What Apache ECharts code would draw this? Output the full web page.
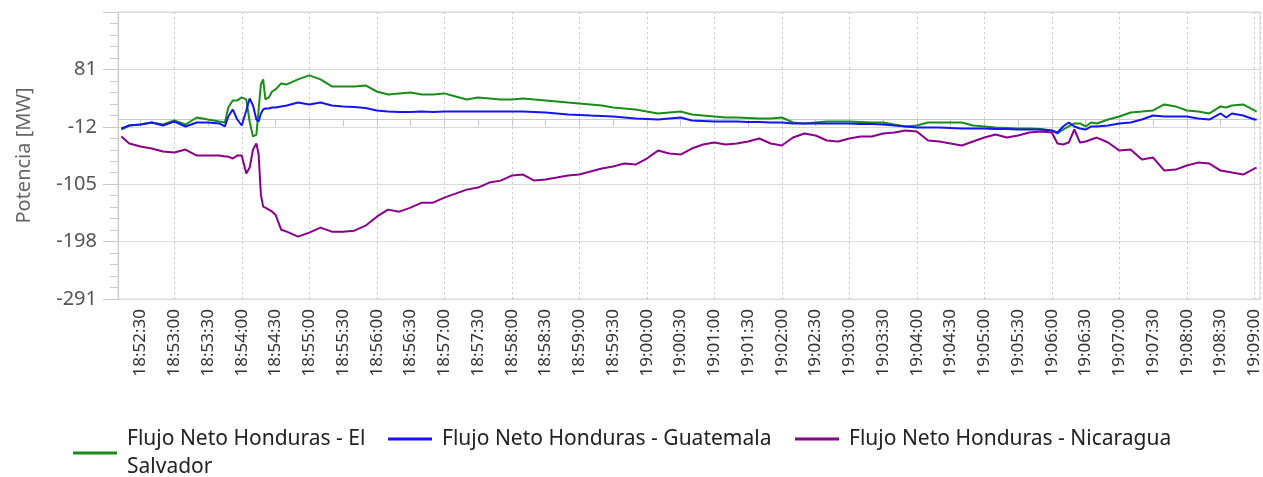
<!DOCTYPE html>
<html>
<head>
<meta charset="utf-8">
<title>Flujo Neto Honduras</title>
<script src="https://cdn.jsdelivr.net/npm/echarts@6/dist/echarts.min.js"></script>
<style>
  html, body { margin: 0; padding: 0; background: #fff; }
  #main { width: 1263px; height: 477px; }
</style>
</head>
<body>
<div id="main"></div>
<script>
// horas de muestreo
var times = [
  '18:52:13', '18:52:20', '18:52:30', '18:52:40', '18:52:50', '18:53:00', '18:53:10', '18:53:20', '18:53:30', '18:53:40',
  '18:53:45', '18:53:48', '18:53:52', '18:53:56', '18:54:00', '18:54:04', '18:54:07', '18:54:10', '18:54:13', '18:54:15',
  '18:54:17', '18:54:19', '18:54:21', '18:54:24', '18:54:27', '18:54:30', '18:54:35', '18:54:40', '18:54:50', '18:55:00',
  '18:55:10', '18:55:20', '18:55:30', '18:55:40', '18:55:50', '18:56:00', '18:56:10', '18:56:20', '18:56:30', '18:56:40',
  '18:56:50', '18:57:00', '18:57:10', '18:57:20', '18:57:30', '18:57:40', '18:57:50', '18:58:00', '18:58:10', '18:58:20',
  '18:58:30', '18:58:40', '18:58:50', '18:59:00', '18:59:10', '18:59:20', '18:59:30', '18:59:40', '18:59:50', '19:00:00',
  '19:00:10', '19:00:20', '19:00:30', '19:00:40', '19:00:50', '19:01:00', '19:01:10', '19:01:20', '19:01:30', '19:01:40',
  '19:01:50', '19:02:00', '19:02:10', '19:02:20', '19:02:30', '19:02:40', '19:02:50', '19:03:00', '19:03:10', '19:03:20',
  '19:03:30', '19:03:40', '19:03:50', '19:04:00', '19:04:10', '19:04:20', '19:04:30', '19:04:40', '19:04:50', '19:05:00',
  '19:05:10', '19:05:20', '19:05:30', '19:05:40', '19:05:50', '19:06:00', '19:06:05', '19:06:10', '19:06:15', '19:06:20',
  '19:06:25', '19:06:30', '19:06:35', '19:06:40', '19:06:50', '19:07:00', '19:07:10', '19:07:20', '19:07:30', '19:07:40',
  '19:07:50', '19:08:00', '19:08:10', '19:08:20', '19:08:30', '19:08:35', '19:08:40', '19:08:50', '19:09:00', '19:09:02'
];

// MW
var elSalvador = [
  -16.4, -9.9, -8.3, -5, -8.3, -1.8, -8.3, 3.1, -0.2, -3.4,
  -5, 19.3, 30.7, 30.7, 35.6, 32.3, -3.4, -27.7, -24.5, 16.1,
  56.7, 64.8, 32.3, 35.6, 45.2, 48.5, 58.3, 56.7, 64.8, 71.3,
  64.8, 53.4, 53.4, 53.4, 55, 45.2, 40.4, 42.1, 43.7, 40.4,
  40.4, 42.1, 37.2, 32.3, 35.6, 34, 32.3, 32.3, 34, 32.3,
  30.7, 29.1, 27.4, 25.8, 24.2, 22.6, 19.3, 17.7, 16.1, 12.8,
  9.6, 11.2, 12.8, 8, 6.3, 4.7, 3.1, 3.1, 2.3, 1.5,
  1.5, 3.1, -5, -6.6, -5, -3.4, -3.4, -3.4, -4.2, -5,
  -5, -8.3, -11.5, -9.9, -5, -5, -5, -5, -9.9, -11.5,
  -13.1, -13.9, -14.8, -14.8, -15.6, -18, -22.9, -16.4, -11.5, -6.6,
  -6.6, -11.5, -5, -6.6, -0.2, 4.7, 11.2, 12.8, 14.5, 24.2,
  21, 14.5, 12.8, 9.6, 21, 19.3, 22.6, 24.2, 14.5, 12.8
];
var guatemala = [
  -14.8, -9.9, -8.3, -5, -9.9, -3.4, -11.5, -5, -5, -6.6,
  -11.5, 4.7, 16.1, -0.2, -9.9, 14.5, 34, 22.6, -0.2, -3.4,
  9.6, 16.1, 17.7, 17.7, 19.3, 19.3, 21, 22.6, 27.4, 24.2,
  27.4, 22.6, 21, 20.1, 18.5, 14.5, 12.8, 12, 12, 12.8,
  12, 12.8, 12.8, 12.8, 12.8, 12.8, 12.8, 12.8, 12.8, 12,
  11.2, 9.6, 8, 7.2, 6.3, 5.5, 4.7, 3.1, 1.5, 0.7,
  -0.2, 1.5, 3.1, -1.8, -2.6, -3.4, -3.4, -3.4, -4.2, -4.2,
  -5, -5, -6.6, -6.6, -6.6, -6.6, -6.6, -6.6, -7.4, -7.4,
  -8.3, -9.9, -11.5, -13.1, -13.1, -13.1, -13.9, -14.8, -14.8, -14.8,
  -15.6, -15.6, -16.4, -16.4, -16.4, -18, -21.2, -11.5, -5, -11.5,
  -14.8, -16.4, -11.5, -11.5, -9.9, -6.6, -5, -0.2, 6.3, 4.7,
  4.7, 4.7, 1.5, -0.2, 9.6, 3.1, 9.6, 6.3, -0.2, -0.2
];
var nicaragua = [
  -27.7, -39.1, -44, -47.2, -52.1, -53.7, -48.8, -58.6, -58.6, -58.6,
  -60.2, -60.2, -63.4, -58.6, -58.6, -87.8, -78.1, -48.8, -39.1, -57,
  -121.9, -141.4, -143, -146.2, -149.5, -154.3, -178.7, -181.9, -190, -183.5,
  -175.4, -181.9, -181.9, -180.3, -172.2, -157.6, -146.2, -149.5, -143, -134.9,
  -134.9, -126.7, -120.3, -113.8, -110.5, -102.4, -99.2, -91, -89.4, -99.2,
  -97.5, -94.3, -91, -89.4, -84.5, -79.7, -76.4, -71.6, -73.2, -63.4,
  -50.5, -55.3, -57, -47.2, -40.7, -37.5, -40.7, -39.1, -35.9, -31,
  -39.1, -42.3, -29.4, -22.9, -26.1, -34.2, -35.9, -31, -27.7, -27.7,
  -22.9, -21.2, -18, -19.6, -34.2, -35.9, -39.1, -42.3, -35.9, -29.4,
  -24.5, -29.4, -26.1, -21.2, -19.6, -21.2, -39.1, -40.7, -37.5, -16.4,
  -37.5, -35.9, -32.6, -29.4, -37.5, -50.5, -48.8, -65.1, -61.8, -82.9,
  -81.3, -74.8, -70, -71.6, -82.9, -84.5, -86.2, -89.4, -79.7, -78.1
];

// marcas del eje Y
var yTicks = [-291, -198, -105, -12, 81];
// marcas del eje X: cada 30 s
var xTickFirst = '18:52:30';
var xTickLast = '19:09:00';

var names = ['Flujo Neto Honduras - El Salvador', 'Flujo Neto Honduras - Guatemala', 'Flujo Neto Honduras - Nicaragua'];
var colors = ['#1a8c1a', '#1414f5', '#8a008a'];
var font = 'Noto Sans';

function toMs(s) {
  var p = s.split(':');
  return new Date(2024, 0, 1, +p[0], +p[1], +p[2]).getTime();
}
function pad(n) { return n < 10 ? '0' + n : '' + n; }
function hms(v) {
  var d = new Date(v);
  return pad(d.getHours()) + ':' + pad(d.getMinutes()) + ':' + pad(d.getSeconds());
}
function pairs(vals) {
  return vals.map(function (v, i) { return [toMs(times[i]), v]; });
}

var xMin = toMs('18:52:10');
var xMax = toMs('19:09:05');
var step = yTicks[1] - yTicks[0];

var xTicks = [];
for (var t = toMs(xTickFirst); t <= toMs(xTickLast); t += 30000) xTicks.push(t);

function legendFor(name, left, fmt) {
  return {
    data: [name],
    left: left,
    top: 425,
    padding: 0,
    icon: 'rect',
    itemWidth: 44,
    itemHeight: 3,
    selectedMode: false,
    formatter: fmt,
    textStyle: { fontFamily: font, fontSize: 21, color: '#222', lineHeight: 28, padding: [0, 0, 0, 5] }
  };
}

var chart = echarts.init(document.getElementById('main'));
var option = {
  animation: false,
  backgroundColor: '#fff',
  grid: {
    left: 118, right: 3, top: 12, bottom: 178,
    show: true, borderColor: '#d9d9d9', borderWidth: 1
  },
  legend: [
    legendFor(names[0], 73, function () { return 'Flujo Neto Honduras - El\nSalvador'; }),
    legendFor(names[1], 388, null),
    legendFor(names[2], 795, null)
  ],
  xAxis: [
    {
      type: 'value',
      min: xMin,
      max: xMax,
      axisLine: { lineStyle: { color: '#c8c8c8' } },
      axisTick: { show: true, length: 7, customValues: xTicks, lineStyle: { color: '#c8c8c8' } },
      axisLabel: {
        rotate: 90,
        margin: 10,
        fontFamily: font,
        fontSize: 17,
        color: '#333',
        hideOverlap: false,
        customValues: xTicks,
        formatter: function (v) { return hms(v); }
      },
      splitLine: { show: false }
    },
    {
      // lineas punteadas por minuto
      type: 'time',
      min: xMin,
      max: xMax,
      minInterval: 60000,
      maxInterval: 60000,
      position: 'bottom',
      axisLine: { show: false },
      axisTick: { show: false },
      axisLabel: { show: false },
      splitLine: { show: true, lineStyle: { color: '#c8c8c8', type: [2, 3] } }
    }
  ],
  yAxis: {
    type: 'value',
    min: yTicks[0],
    max: yTicks[yTicks.length - 1] + step,
    interval: step,
    name: 'Potencia [MW]',
    nameLocation: 'middle',
    nameGap: 84,
    nameTextStyle: { fontFamily: font, fontSize: 20, color: '#666' },
    axisLine: { show: true, lineStyle: { color: '#c8c8c8' } },
    axisTick: { show: true, length: 15, lineStyle: { color: '#c8c8c8' } },
    minorTick: { show: true, splitNumber: 5, length: 8, lineStyle: { color: '#c8c8c8' } },
    axisLabel: {
      margin: 21,
      fontFamily: font,
      fontSize: 20,
      color: '#555',
      showMaxLabel: false
    },
    splitLine: { show: true, lineStyle: { color: '#d9d9d9' } }
  },
  series: [
    { name: names[0], type: 'line', data: pairs(elSalvador), showSymbol: false, color: colors[0], lineStyle: { width: 2 } },
    { name: names[1], type: 'line', data: pairs(guatemala), showSymbol: false, color: colors[1], lineStyle: { width: 2 } },
    { name: names[2], type: 'line', data: pairs(nicaragua), showSymbol: false, color: colors[2], lineStyle: { width: 2 } }
  ]
};
chart.setOption(option);
</script>
</body>
</html>
